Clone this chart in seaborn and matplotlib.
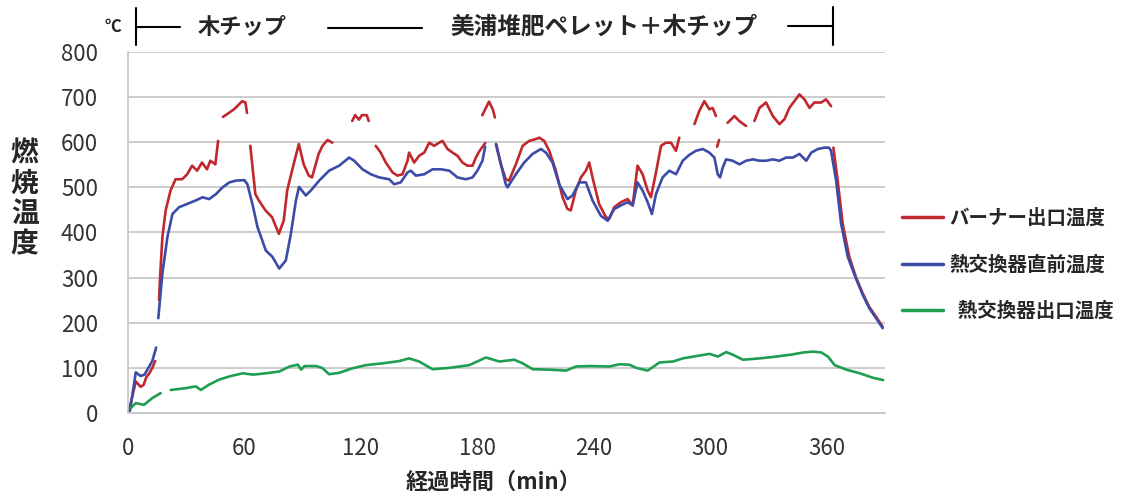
import numpy as np
import pandas as pd
import seaborn as sns
import matplotlib.pyplot as plt
from matplotlib.lines import Line2D

nan = np.nan

# 経過時間(min) と 温度(℃)、nan は線の切れ目
red_min = [0.5, 4, 6.5, 8, 9.5, 11, 12.5, 14, nan,
           16, 16.5, 17.7, 19.4, 21.9, 24.5, 27.9, 30.5, 33, 35.6, 38.1, 40.7, 42.4, 45, 46.4, nan,
           48.9, 52, 54.6, 56.3, 58.8, 60.5, 61.3, nan,
           63, 65.6, 67.4, 70.8, 74.2, 77.7, 80.2, 82, 84.5, 88, 90.5, 93.1, 94.8, 98.2, 100.2, 102.8, 105.3, nan,
           115.5, 117, 119, 120.5, 123, 124, nan,
           127.6, 130.2, 132.8, 136.3, 138.8, 141.4, 144, 144.8, 147.4, 150, 152.6, 155.2, 157.7, 160.3, 162,
           164.6, 167.2, 169.7, 172.3, 174.9, 177.5, 179.2, 181, 184, nan,
           182.5, 186, 188, 189, nan,
           189.7, 192.1, 194.6, 196.3, 199.8, 203.3, 206.7, 210.1, 211.9, 214.4, 217, 220.4, 223.9, 226.4, 228.1,
           230.7, 233.3, 235.9, 237.6, 239.3, 242.7, 246.2, 247.9, 250.5, 253.9, 257.4, 260, 262.5, 265.1, 267.7,
           269.4, 272, 274.6, 277.1, 279.7, 282.3, 284, nan,
           291.8, 294.3, 296.9, 299.5, 301.2, 302.9, nan,
           303.5, 304.5, nan,
           308.9, 312.4, 314.9, 318.4, nan,
           322.7, 325.3, 328.7, 332.2, 335.6, 338.2, 340.7, 343.3, 345.9, 348.5, 351.1, 353.6, 357.1, 359.6, 362.2, nan,
           363.4, 365.6, 368.2, 371.6, 375, 378.5, 381.9, 385.4, 388.8]
red_temp = [5, 70, 58, 62, 80, 88, 100, 115, nan,
            250, 300, 390, 449, 493, 518, 518, 529, 548, 537, 555, 540, 559, 551, 603, nan,
            656, 665, 673, 680, 691, 688, 665, nan,
            592, 485, 471, 449, 434, 397, 426, 493, 537, 596, 551, 526, 522, 574, 592, 605, 599, nan,
            647, 660, 650, 660, 660, 647, nan,
            592, 577, 555, 533, 526, 529, 559, 577, 555, 570, 577, 599, 592, 599, 603,
            585, 577, 570, 555, 548, 548, 566, 580, 598, nan,
            660, 690, 672, 655, nan,
            596, 551, 518, 515, 551, 592, 603, 607, 610, 603, 581, 537, 478, 452, 449,
            493, 522, 537, 555, 522, 463, 434, 430, 456, 467, 474, 460, 548, 529, 493,
            478, 533, 592, 599, 599, 581, 610, nan,
            640, 669, 691, 673, 676, 658, nan,
            590, 605, nan,
            643, 658, 647, 636, nan,
            647, 676, 688, 658, 640, 651, 676, 691, 706, 695, 676, 688, 688, 695, 680, nan,
            588, 515, 419, 346, 301, 265, 235, 213, 191]

blue_min = [1, 4, 6.5, 8.5, 10.5, 12.5, 14.5, nan,
            15.6, 17.7, 20.3, 22.9, 26.3, 29.8, 34.9, 38.4, 41.8, 45.3, 48.7, 52.2, 55.6, 59.9, 61.5, 64.1,
            66.7, 71, 74.4, 77.9, 81.3, 83.9, 86.5, 88.1, 91.6, 94.2, 98.5, 103.6, 108.8, 113.9, 116.5, 120.8,
            125.1, 129.4, 134.5, 137.1, 140.5, 144, 145.7, 148.3, 152.6, 156.9, 161.2, 165.5, 169.7, 174,
            177.5, 180, 182.6, 184, nan,
            189.5, 192.1, 194.6, 195.5, 199.8, 204.1, 208.4, 212.7, 215.3, 218.7, 222.1, 226.4, 229, 232.5,
            235.9, 239.3, 243.6, 247.1, 250.5, 253.9, 257.4, 260, 262.5, 265.1, 267.7, 269.9, 272, 275.4,
            278.9, 282.3, 285.8, 289.2, 292.6, 296.1, 299.5, 302.1, 303.8, 305, 306.4, 308.1, 311.5, 315,
            318.4, 321.9, 325.3, 328.7, 332.2, 335.6, 339, 342.5, 345.9, 349.4, 352, 355.4, 358.8, 361.1,
            362.2, 364.8, 367.4, 370.8, 375, 378.5, 381.9, 385.4, 388.8]
blue_temp = [5, 90, 82, 85, 100, 115, 145, nan,
             210, 309, 390, 441, 456, 462, 471, 478, 474, 485, 500, 511, 515, 516, 507, 463,
             412, 360, 346, 320, 338, 397, 471, 501, 482, 493, 515, 537, 548, 566, 559, 540,
             529, 522, 518, 507, 511, 533, 537, 526, 529, 540, 540, 537, 522, 518,
             522, 537, 559, 590, nan,
             596, 551, 507, 500, 529, 555, 574, 585, 577, 555, 507, 474, 482, 511,
             511, 471, 437, 426, 452, 460, 467, 460, 511, 493, 467, 441, 485, 522,
             537, 529, 559, 572, 581, 585, 577, 566, 529, 522, 544, 562, 559, 551,
             559, 562, 559, 559, 562, 559, 566, 566, 574, 559, 577, 585, 588, 588,
             581, 515, 419, 346, 298, 262, 232, 210, 188]

green_min = [1.4, 4, 8.2, 12.5, 16.8, nan,
             22, 29.7, 34.9, 37.5, 41.8, 47, 52.2, 59.1, 64.3, 71.1, 78, 83.2, 87.5, 89.2, 90.9, 96.9, 100,
             103.6, 108.8, 115.6, 122.5, 131.1, 139.7, 144.8, 150, 156.9, 165.5, 175.8, 184.4, 191.3, 199,
             203.3, 208.5, 217.1, 225.7, 230.8, 237.7, 248, 253.2, 258.3, 261.8, 267.8, 273.8, 280.7, 285.8,
             292.7, 299.6, 303.9, 308.2, 311.6, 316.8, 325.4, 334, 342.6, 347.7, 352.9, 357.2, 360.6, 364.1,
             370.1, 377, 383.8, 389]
green_temp = [11, 22, 18, 33, 44, nan,
              51, 55, 59, 51, 63, 74, 81, 88, 85, 88, 92, 103, 107, 96, 104, 104, 100,
              86, 89, 99, 106, 110, 115, 121, 114, 97, 100, 106, 123, 114, 118,
              110, 97, 96, 94, 103, 104, 103, 108, 107, 100, 94, 112, 114, 121,
              126, 131, 125, 135, 129, 118, 121, 125, 130, 134, 136, 134, 125, 106,
              96, 88, 78, 73]

series_names = ["バーナー出口温度", "熱交換器直前温度", "熱交換器出口温度"]
legend_labels = ["バーナー出口温度", "熱交換器直前温度", "  熱交換器出口温度"]
colors = ["#C0282E", "#3D4BA8", "#1F9E52"]
x_ticks = [0, 60, 120, 180, 240, 300, 360]
y_ticks = [0, 100, 200, 300, 400, 500, 600, 700, 800]


def to_frame(name, xs, ys):
    d = pd.DataFrame({"min": xs, "temp": ys})
    d["seg"] = d["temp"].isna().cumsum()
    d = d.dropna()
    d["series"] = name
    d["seg"] = name + d["seg"].astype(str)
    return d


df = pd.concat([
    to_frame(series_names[0], red_min, red_temp),
    to_frame(series_names[1], blue_min, blue_temp),
    to_frame(series_names[2], green_min, green_temp),
], ignore_index=True)

sns.set_style("white")
plt.rcParams['font.family'] = ['Noto Sans CJK JP', 'DejaVu Sans']

fig = plt.figure(figsize=(11.21, 4.94), dpi=100)
ax = fig.add_axes([0.1142, 0.164, 0.6753, 0.7308])

sns.lineplot(data=df, x="min", y="temp", hue="series", units="seg", estimator=None,
             sort=False, palette=dict(zip(series_names, colors)), linewidth=1.9,
             legend=False, ax=ax)

ax.set_xlim(0, 390)
ax.set_ylim(0, 800)
ax.set_xticks(x_ticks)
ax.set_yticks(y_ticks)
ax.yaxis.grid(True, color="#C4C4C4", linewidth=1.2)
ax.set_axisbelow(True)
for s in ["top", "right"]:
    ax.spines[s].set_visible(False)
for s in ["left", "bottom"]:
    ax.spines[s].set_color("#C4C4C4")
    ax.spines[s].set_linewidth(1.2)
ax.tick_params(axis="y", length=6.5, width=1.2, color="#C4C4C4", pad=15, labelsize=16, labelcolor="#333333")
ax.tick_params(axis="x", length=5, width=1.2, color="#C4C4C4", pad=12, labelsize=16, labelcolor="#333333")
ax.set_xlabel("")
ax.set_ylabel("")

fig.text(0.44, 0.024, "経過時間（min）", ha="center", va="center", fontsize=16, fontweight="bold")
fig.text(0.022, 0.598, "燃\n焼\n温\n度", ha="center", va="center", fontsize=20,
         fontweight="bold", linespacing=1.1)

# 上部の区間表示
fig.text(0.101, 0.945, "℃", ha="center", va="center", fontsize=12, fontweight="bold")
fig.text(0.216, 0.945, "木チップ", ha="center", va="center", fontsize=16, fontweight="bold")
fig.text(0.539, 0.945, "美浦堆肥ペレット＋木チップ", ha="center", va="center", fontsize=17, fontweight="bold")
for xs, ys in [([0.1213, 0.1213], [0.909, 0.984]), ([0.1213, 0.1606], [0.945, 0.945]),
               ([0.2926, 0.3764], [0.943, 0.943]), ([0.703, 0.743], [0.947, 0.947]),
               ([0.743, 0.743], [0.909, 0.986])]:
    fig.add_artist(Line2D(xs, ys, transform=fig.transFigure, color="black", linewidth=1.5))

handles = [Line2D([], [], color=c, linewidth=2.5) for c in colors]
fig.legend(handles, legend_labels, loc="center left", bbox_to_anchor=(0.805, 0.464),
           frameon=False, handlelength=2.1, handletextpad=0.3,
           labelspacing=1.4, borderpad=0, borderaxespad=0,
           prop={"size": 14, "weight": "bold"})

fig.savefig("out.png", dpi=100)
